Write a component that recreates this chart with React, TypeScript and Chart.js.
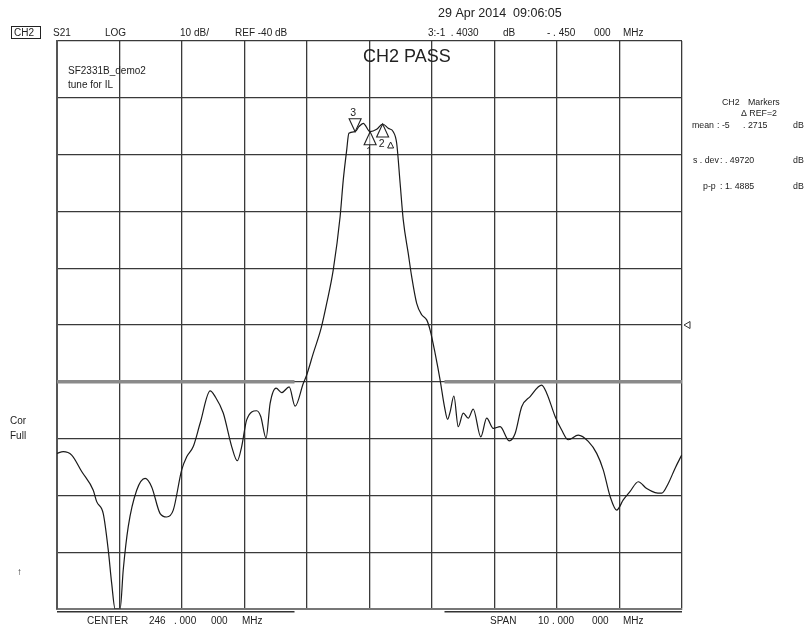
import { useEffect, useRef } from "react";
import Chart from "chart.js/auto";

// ---- data (frequency in MHz, transmission in dB) ----
const traceFreqMHz = [
  241.0, 241.1, 241.235, 241.395, 241.58, 241.635, 241.74, 241.82, 241.875, 241.93,
  242.01, 242.06, 242.14, 242.275, 242.41, 242.515, 242.65, 242.755, 242.86, 242.995,
  243.075, 243.18, 243.29, 243.45, 243.53, 243.66, 243.795, 243.885, 243.955, 244.035,
  244.195, 244.26, 244.345, 244.41, 244.505, 244.595, 244.715, 244.81, 244.94, 244.995,
  245.1, 245.225, 245.315, 245.42, 245.53, 245.58, 245.635, 245.67, 245.77, 245.83,
  245.9, 246.01, 246.115, 246.21, 246.3, 246.38, 246.435, 246.49, 246.54, 246.62,
  246.675, 246.755, 246.835, 246.915, 246.97, 247.05, 247.13, 247.2, 247.25, 247.29,
  247.35, 247.42, 247.5, 247.58, 247.66, 247.78, 247.875, 247.98, 248.09, 248.235,
  248.33, 248.435, 248.57, 248.755, 248.835, 248.97, 249.075, 249.18, 249.34, 249.5,
  249.635, 249.74, 249.85, 249.955, 250.06, 250.17, 250.3, 250.435, 250.57, 250.675,
  250.78, 250.89, 250.995,
];
const traceDb = [
  -62.6, -62.3, -62.9, -65.8, -69.1, -71.1, -73.2, -79.6, -85.5, -90.0,
  -90.0, -83.1, -75.5, -69.1, -67.0, -68.5, -73.2, -73.8, -72.6, -65.5,
  -63.2, -61.4, -57.3, -51.6, -52.6, -55.5, -61.4, -63.9, -61.4, -56.7,
  -55.1, -56.1, -59.9, -53.8, -51.1, -51.9, -50.9, -54.3, -50.3, -48.8,
  -45.0, -40.6, -36.2, -30.3, -20.9, -14.5, -9.2, -6.25, -5.97, -5.09,
  -4.49, -5.97, -5.55, -4.61, -5.37, -5.97, -8.0, -15.05, -21.5, -27.4,
  -31.5, -36.2, -38.2, -39.1, -40.9, -45.0, -49.7, -54.4, -56.6, -55.3,
  -52.5, -57.9, -55.5, -56.4, -54.8, -59.7, -56.4, -58.2, -57.9, -60.4,
  -59.1, -54.4, -52.6, -50.6, -52.0, -56.1, -58.5, -60.2, -59.4, -60.5,
  -62.6, -65.5, -70.2, -72.6, -70.8, -69.3, -67.6, -68.8, -69.5, -69.6,
  -67.9, -65.2, -62.9,
];

const startMHz = 241;
const stopMHz = 251;
const stepMHz = 1;
const topDb = 10;
const bottomDb = -90;
const stepDb = 10;
const refDb = -40;

const limitDb = -50;
const lowerLimitDb = -90.5;
const stopbandLeftMHz = [241, 244.8];
const stopbandRightMHz = [247.2, 251];

const markerLabels = ["1", "2", "3"];
const markerFreqMHz = [246.01, 246.21, 245.77];
const markerDbVals = [-5.97, -4.61, -5.97];
const markerPointsDown = [false, false, true];

const headerTexts: [string, number, number][] = [
  ["CH2", 14, 33],
  ["S21", 53, 33],
  ["LOG", 105, 33],
  ["10 dB/", 180, 33],
  ["REF -40 dB", 235, 33],
  ["3:-1  . 4030", 428, 33],
  ["dB", 503, 33],
  ["- . 450", 547, 33],
  ["000", 594, 33],
  ["MHz", 623, 33],
  ["SF2331B_demo2", 68, 71],
  ["tune for IL", 68, 85],
  ["Cor", 10, 421],
  ["Full", 10, 436],
  ["\u2191", 17, 572],
  ["CENTER", 87, 621],
  ["246", 149, 621],
  [". 000", 174, 621],
  ["000", 211, 621],
  ["MHz", 242, 621],
  ["SPAN", 490, 621],
  ["10 . 000", 538, 621],
  ["000", 592, 621],
  ["MHz", 623, 621],
];
const panelTexts: [string, number, number][] = [
  ["CH2", 722, 103],
  ["Markers", 748, 103],
  ["\u0394 REF=2", 741, 114],
  ["mean", 692, 126],
  [": -5", 717, 126],
  [". 2715", 743, 126],
  ["dB", 793, 126],
  ["s . dev", 693, 161],
  [": . 49720", 720, 161],
  ["dB", 793, 161],
  ["p-p", 703, 187],
  [": 1. 4885", 720, 187],
  ["dB", 793, 187],
];
const dateText = "29 Apr 2014  09:06:05";
const titleText = "CH2 PASS";

const FONT = '"Liberation Sans", Arial, sans-serif';

const overlayPlugin = {
  id: "analyzerOverlay",
  afterDatasetsDraw(chart: any) {
    const ctx = chart.ctx as CanvasRenderingContext2D;
    const xs = chart.scales.x;
    const ys = chart.scales.y;
    ctx.save();
    ctx.fillStyle = "#222";
    ctx.textBaseline = "middle";
    ctx.textAlign = "left";
    ctx.font = `10px ${FONT}`;
    headerTexts.forEach(([t, x, y]) => ctx.fillText(t, x, y));
    ctx.font = `8.8px ${FONT}`;
    panelTexts.forEach(([t, x, y]) => ctx.fillText(t, x, y));
    // CH2 box
    ctx.strokeStyle = "#222";
    ctx.lineWidth = 1;
    ctx.strokeRect(11.5, 26.5, 29, 12);
    ctx.font = `12.5px ${FONT}`;
    ctx.fillText(dateText, 438, 14);
    ctx.font = `18px ${FONT}`;
    ctx.fillText(titleText, 363, 57);

    // reference position marker on right edge
    const ry = ys.getPixelForValue(refDb);
    const rx = chart.chartArea.right + 2;
    ctx.beginPath();
    ctx.moveTo(rx, ry);
    ctx.lineTo(rx + 6, ry - 3.5);
    ctx.lineTo(rx + 6, ry + 3.5);
    ctx.closePath();
    ctx.lineWidth = 1;
    ctx.strokeStyle = "#333";
    ctx.stroke();

    // markers
    ctx.font = `10.5px ${FONT}`;
    ctx.textAlign = "center";
    markerLabels.forEach((lab, i) => {
      const px = xs.getPixelForValue(markerFreqMHz[i]);
      const py = ys.getPixelForValue(markerDbVals[i]);
      const h = 13;
      const w = 6;
      const dir = markerPointsDown[i] ? -1 : 1;
      ctx.beginPath();
      ctx.moveTo(px, py);
      ctx.lineTo(px - w, py + dir * h);
      ctx.lineTo(px + w, py + dir * h);
      ctx.closePath();
      ctx.fillStyle = "rgba(255,255,255,0.6)";
      ctx.fill();
      ctx.strokeStyle = "#222";
      ctx.lineWidth = 1.1;
      ctx.stroke();
      ctx.fillStyle = "#222";
      if (markerPointsDown[i]) {
        ctx.fillText(lab, px - 2, py - h - 6);
      } else {
        ctx.fillText(lab, px - 1, py + h + 7);
      }
    });
    // delta-reference indicator near marker 2
    const p2x = xs.getPixelForValue(markerFreqMHz[1]);
    const p2y = ys.getPixelForValue(markerDbVals[1]);
    ctx.beginPath();
    ctx.moveTo(p2x + 8, p2y + 18);
    ctx.lineTo(p2x + 5, p2y + 24);
    ctx.lineTo(p2x + 11, p2y + 24);
    ctx.closePath();
    ctx.lineWidth = 1;
    ctx.stroke();
    ctx.restore();
  },
};

export default function App() {
  const ref = useRef<HTMLCanvasElement | null>(null);
  useEffect(() => {
    if (!ref.current) return;
    const trace = traceFreqMHz.map((f, i) => ({ x: f, y: traceDb[i] }));
    const gapMHz = (stopbandLeftMHz[1] + stopbandRightMHz[0]) / 2;
    const limitLine = [
      { x: stopbandLeftMHz[0], y: limitDb },
      { x: stopbandLeftMHz[1], y: limitDb },
      { x: gapMHz, y: null },
      { x: stopbandRightMHz[0], y: limitDb },
      { x: stopbandRightMHz[1], y: limitDb },
    ];
    const lowerLine = [
      { x: stopbandLeftMHz[0], y: lowerLimitDb },
      { x: stopbandLeftMHz[1], y: lowerLimitDb },
      { x: gapMHz, y: null },
      { x: stopbandRightMHz[0], y: lowerLimitDb },
      { x: stopbandRightMHz[1], y: lowerLimitDb },
    ];
    const chart = new Chart(ref.current, {
      type: "line",
      data: {
        datasets: [
          {
            data: trace as any,
            borderColor: "#1a1a1a",
            borderWidth: 1.2,
            pointRadius: 0,
            cubicInterpolationMode: "monotone",
            order: 0,
          },
          {
            data: limitLine as any,
            borderColor: "#8a8a8a",
            borderWidth: 3.5,
            pointRadius: 0,
            spanGaps: false,
            order: 1,
          },
          {
            data: lowerLine as any,
            borderColor: "#333",
            borderWidth: 1.5,
            pointRadius: 0,
            spanGaps: false,
            clip: false as any,
            order: 2,
          },
        ],
      },
      options: {
        responsive: false,
        animation: false,
        layout: { padding: { left: 57, top: 41, right: 124, bottom: 20 } },
        plugins: {
          legend: { display: false },
          tooltip: { enabled: false },
          title: { display: false },
        },
        scales: {
          x: {
            type: "linear",
            min: startMHz,
            max: stopMHz,
            ticks: { display: false, stepSize: stepMHz },
            grid: { color: "#3a3a3a", lineWidth: 1.3, drawTicks: false },
            border: { display: true, color: "#777", width: 2 },
          },
          y: {
            type: "linear",
            min: bottomDb,
            max: topDb,
            ticks: { display: false, stepSize: stepDb },
            grid: { color: "#3a3a3a", lineWidth: 1.3, drawTicks: false },
            border: { display: true, color: "#555", width: 2 },
          },
        },
      },
      plugins: [overlayPlugin],
    });
    return () => chart.destroy();
  }, []);
  return (
    <div style={{ position: "absolute", left: 0, top: 0, width: 806, height: 629, background: "#fff" }}>
      <canvas ref={ref} width={806} height={629} style={{ width: 806, height: 629, display: "block" }} />
    </div>
  );
}
